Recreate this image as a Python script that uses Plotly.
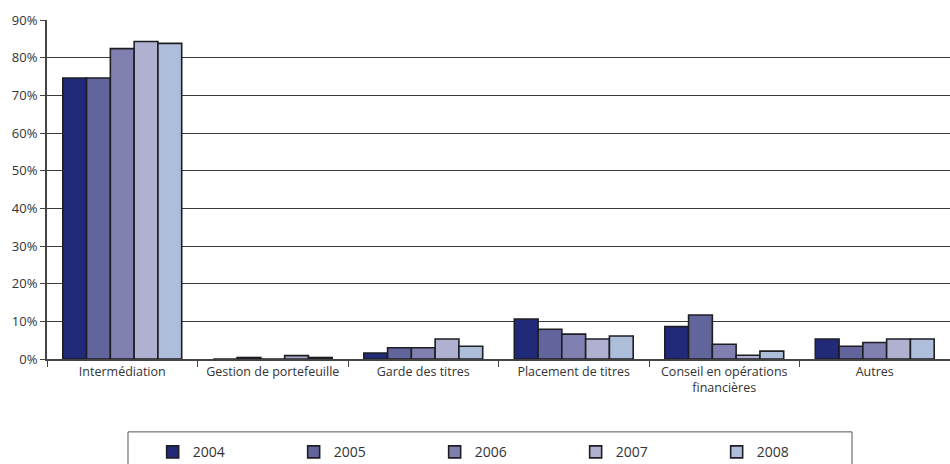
import plotly.graph_objects as go

categories = ["Intermédiation", "Gestion de portefeuille", "Garde des titres",
              "Placement de titres", "Conseil en opérations<br>financières", "Autres"]
years = ["2004", "2005", "2006", "2007", "2008"]
v2004 = [74.6, 0.0, 1.6, 10.6, 8.6, 5.3]
v2005 = [74.6, 0.4, 3.0, 7.9, 11.7, 3.4]
v2006 = [82.4, 0.0, 3.0, 6.6, 3.9, 4.4]
v2007 = [84.3, 0.9, 5.3, 5.3, 1.0, 5.3]
v2008 = [83.8, 0.4, 3.4, 6.1, 2.1, 5.3]
series = [v2004, v2005, v2006, v2007, v2008]
colors = ["#212a78", "#62659c", "#8080b0", "#b0b0d0", "#adbedb"]
yticks = [0, 10, 20, 30, 40, 50, 60, 70, 80, 90]

fig = go.Figure()
for name, vals, col in zip(years, series, colors):
    fig.add_trace(go.Bar(
        x=categories, y=vals, name=name,
        marker=dict(color=col, line=dict(color="#1e1e24", width=1.6)),
    ))

fig.update_layout(
    width=950, height=464,
    margin=dict(l=47, r=0, t=20, b=105, autoexpand=False),
    plot_bgcolor="white", paper_bgcolor="white",
    barmode="group", bargap=0.21, bargroupgap=0,
    font=dict(family="Open Sans", size=12, color="#333333"),
    showlegend=True,
    legend=dict(orientation="h", x=0.117, xanchor="left", y=-0.228, yanchor="top",
                entrywidth=96, font=dict(size=14, color="#333333"),
                bgcolor="rgba(0,0,0,0)", itemwidth=30),
)
fig.update_yaxes(
    range=[0, 90], tickvals=yticks, ticktext=[f"{t}%" for t in yticks],
    showgrid=True, gridcolor="#3a3a3a", gridwidth=1,
    showline=True, linecolor="#444444", linewidth=2,
    ticks="outside", ticklen=5, tickcolor="#444444",
    tickfont=dict(size=13, color="#333333"), zeroline=False,
)
fig.update_xaxes(
    showline=True, linecolor="#444444", linewidth=2,
    ticks="outside", tickson="boundaries", ticklen=6, tickcolor="#444444",
    tickfont=dict(size=12.5, color="#333333"),
)
fig.add_shape(type="rect", xref="paper", yref="paper",
              x0=0.0897, x1=0.8915, y0=-0.215, y1=-0.34,
              line=dict(color="#555555", width=1), fillcolor="rgba(0,0,0,0)")

fig.write_html("out.html")
